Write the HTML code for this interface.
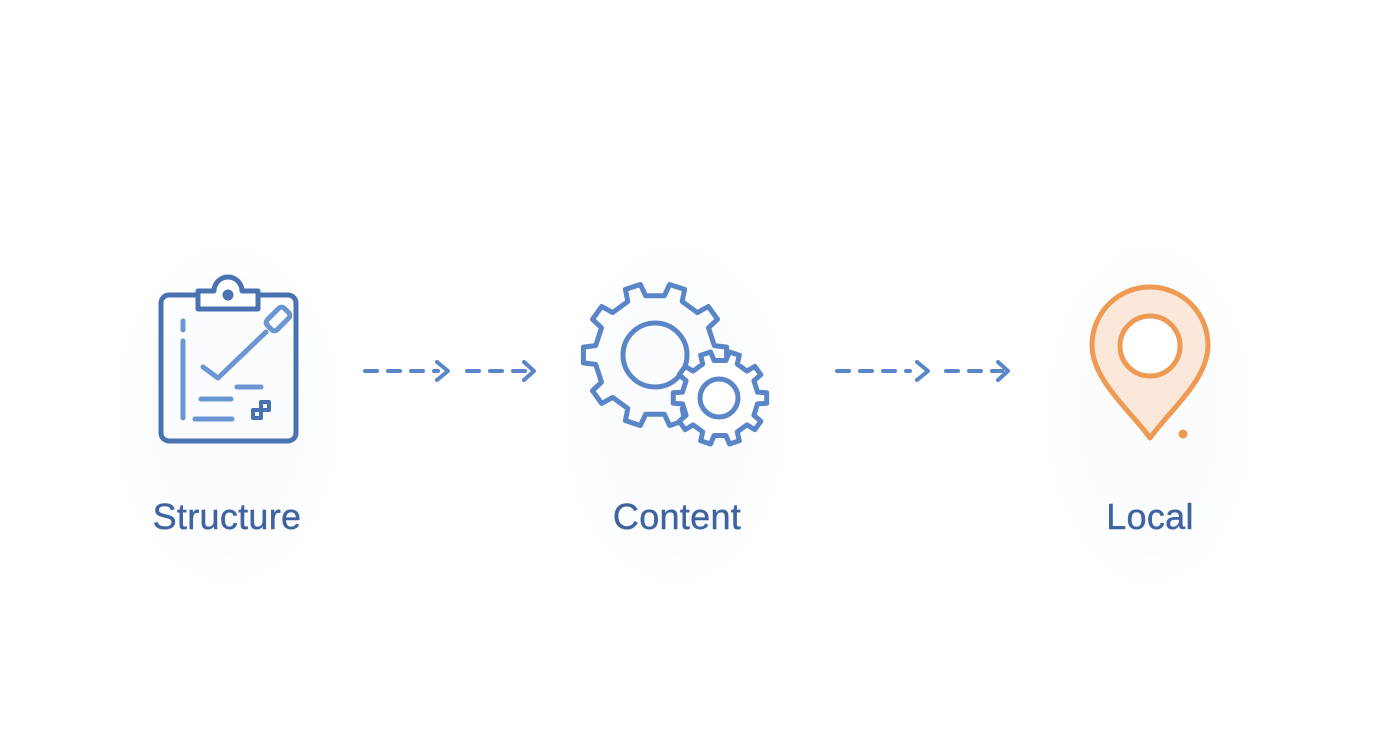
<!DOCTYPE html>
<html><head><style>
html,body{margin:0;padding:0;background:#fff;}
body{width:1392px;height:752px;overflow:hidden;position:relative;font-family:"Liberation Sans",sans-serif;}
.lbl{position:absolute;top:496px;font-size:36px;color:#3f63a0;text-align:center;width:300px;letter-spacing:0.3px;-webkit-text-stroke:0.4px #3f63a0;}
</style></head><body>
<svg width="1392" height="752" style="position:absolute;left:0;top:0">
<defs><radialGradient id="g"><stop offset="0.6" stop-color="#fafcfe"/><stop offset="1" stop-color="#ffffff"/></radialGradient></defs>
<ellipse cx="228" cy="415" rx="115" ry="175" fill="url(#g)"/>
<ellipse cx="676" cy="415" rx="115" ry="175" fill="url(#g)"/>
<ellipse cx="1150" cy="415" rx="105" ry="175" fill="url(#g)"/>
<g fill="none" stroke="#4a72b0" stroke-width="5" stroke-linecap="round" stroke-linejoin="round">
<rect x="161" y="295" width="135" height="146" rx="8"/>
<path d="M198 309 V291 H214 A14 14 0 0 1 242 291 H258 V309 Z" fill="#fff"/>
<circle cx="228" cy="295" r="3" fill="#4a72b0"/>
<path d="M261 410 h8 v-8 h-8z M253 418 h8 v-8 h-8z" stroke-width="4"/>
</g>
<g fill="none" stroke="#6b96d2" stroke-width="5" stroke-linecap="round" stroke-linejoin="round">
<line x1="183" y1="321" x2="183" y2="330"/>
<line x1="183" y1="341" x2="183" y2="418"/>
<path d="M203 367 L218 378 L266 332"/>
<rect x="271" y="307" width="14" height="24" rx="4" transform="rotate(45 278 319)"/>
<line x1="237" y1="387" x2="261" y2="387"/>
<line x1="201" y1="399" x2="231" y2="399"/>
<line x1="195" y1="419" x2="232" y2="419"/>
</g>
<g stroke="#5a86c8" stroke-width="4" fill="none" stroke-linecap="round" stroke-linejoin="round">
<line x1="365" y1="371" x2="438" y2="371" stroke-dasharray="12 11"/>
<path d="M437 362 L448 371 L437 380"/>
<line x1="467" y1="371" x2="528" y2="371" stroke-dasharray="12 11"/>
<path d="M524 362 L534 371 L524 380"/>
<line x1="837" y1="371" x2="910" y2="371" stroke-dasharray="12 11"/>
<path d="M917 362 L928 371 L917 380"/>
<line x1="946" y1="371" x2="1002" y2="371" stroke-dasharray="12 11"/>
<path d="M998 362 L1008 371 L998 380"/>
</g>
<g id="gears" fill="none" stroke="#5a86c8" stroke-width="5" stroke-linejoin="round">
<circle cx="655" cy="355" r="32"/>
<circle cx="719" cy="398" r="19"/>
</g>
<g stroke="#ee9a52" stroke-width="5" stroke-linejoin="round">
<path d="M1150 438 C1130 410 1092 380 1092 345 A58 58 0 0 1 1208 345 C1208 380 1170 410 1150 438 Z" fill="#fbe8da"/>
<circle cx="1150" cy="346" r="30" fill="#fff"/>
</g>
<circle cx="1183" cy="434" r="4.5" fill="#ee9a52"/>
</svg>
<div class="lbl" style="left:77px">Structure</div>
<div class="lbl" style="left:527px">Content</div>
<div class="lbl" style="left:1000px">Local</div>
<script>
function gear(cx,cy,ro,ri,n,fill){
 let d="";
 for(let i=0;i<n;i++){
  let a=i*2*Math.PI/n, s=Math.PI/n;
  let pts=[[ri,a-s*0.5],[ro,a-s*0.35],[ro,a+s*0.35],[ri,a+s*0.5],[ri,a+s*1.5]];
  pts.forEach((p,j)=>{d+=(i==0&&j==0?"M":"L")+(cx+p[0]*Math.cos(p[1])).toFixed(1)+" "+(cy+p[0]*Math.sin(p[1])).toFixed(1)+" ";});
 }
 const e=document.createElementNS("http://www.w3.org/2000/svg","path");
 e.setAttribute("d",d+"Z");e.setAttribute("fill",fill);
 return e;
}
const g=document.getElementById("gears");
g.insertBefore(gear(655,355,72,60,10,"none"),g.firstChild);
const sg=gear(720,398,47,38,10,"#fff");
g.insertBefore(sg,g.lastElementChild);
</script>
</body></html>
